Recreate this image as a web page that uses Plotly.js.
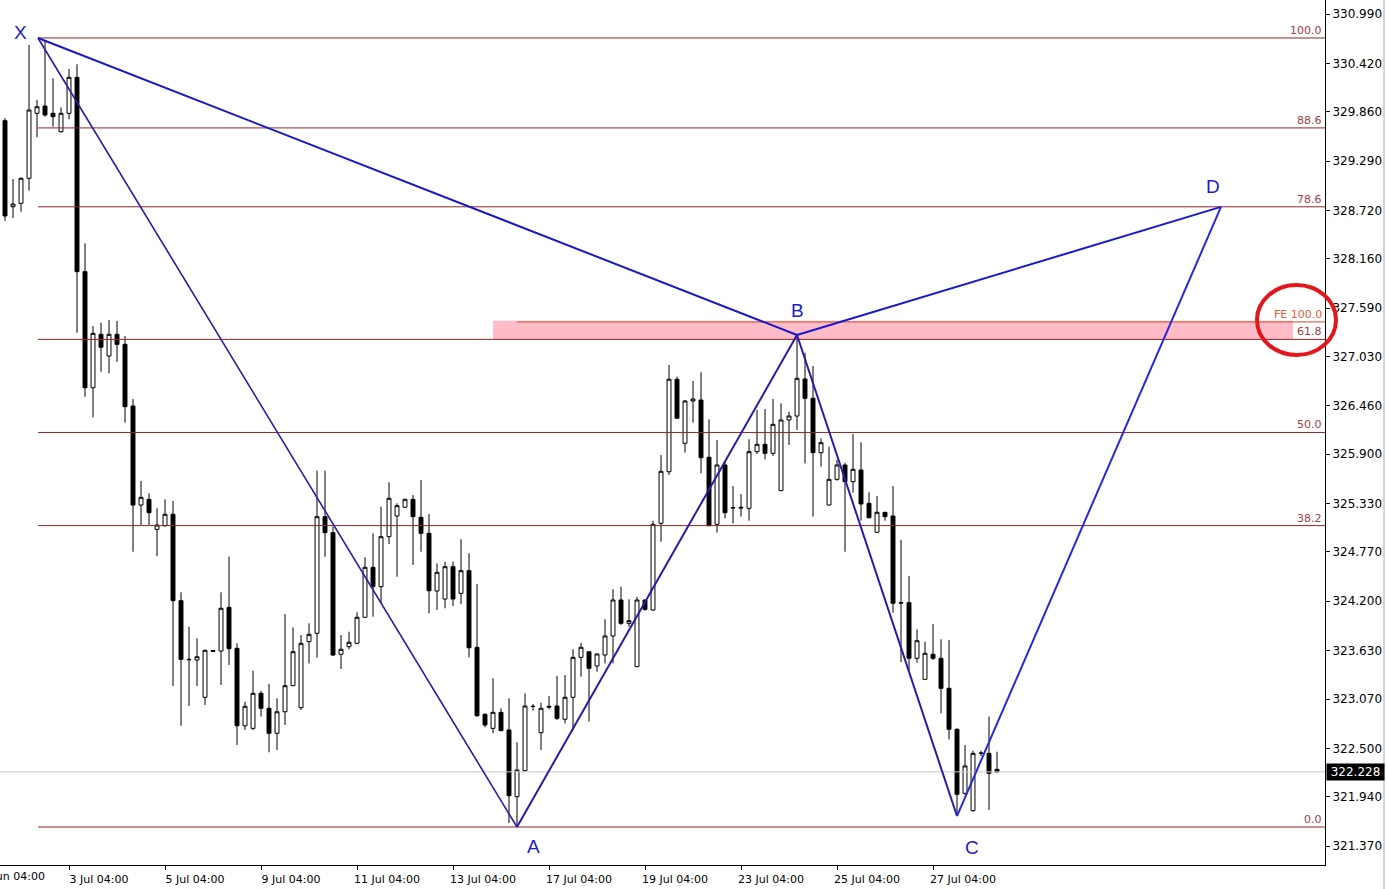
<!DOCTYPE html>
<html>
<head>
<meta charset="utf-8">
<script src="https://cdn.plot.ly/plotly-3.0.1.min.js"></script>
<style>
  html, body { margin:0; padding:0; background:#ffffff; }
  #chart { width:1387px; height:889px; }
</style>
</head>
<body>
<div id="chart"></div>
<script>
// ---- Candles (H4 bars, index order) ----
const barOpen = [
329.757, 328.762, 328.801, 329.091, 329.842, 329.926, 329.842, 329.629, 329.842, 330.258,
328.011, 326.669, 327.287, 327.036, 327.287, 327.171, 326.458, 325.313, 325.379, 325.032,
325.074, 325.206, 324.207, 323.529, 323.521, 323.090, 323.630, 323.625, 324.130, 323.656,
322.761, 322.731, 323.136, 322.963, 322.674, 322.923, 323.224, 322.970, 323.733, 323.830,
325.178, 324.993, 323.587, 323.675, 323.714, 324.015, 324.593, 324.369, 324.947, 325.186,
325.287, 325.379, 325.171, 324.986, 324.319, 324.226, 324.600, 324.292, 324.554, 323.668,
322.893, 322.731, 322.916, 322.712, 321.941, 322.241, 322.983, 322.681, 322.986, 322.989,
322.836, 323.090, 323.552, 323.617, 323.452, 323.579, 323.799, 324.215, 323.945, 323.444,
324.215, 324.099, 325.102, 325.698, 326.767, 326.027, 326.516, 326.527, 325.865, 325.090,
325.776, 325.279, 325.287, 325.275, 325.930, 326.015, 325.911, 325.479, 326.296, 326.342,
326.770, 326.547, 325.918, 325.313, 325.610, 325.776, 325.583, 325.718, 325.333, 324.998,
325.229, 325.186, 324.184, 324.184, 323.541, 323.298, 323.587, 323.541, 323.194, 322.720,
321.980, 321.779, 322.442, 322.442, 322.257
];
const barHigh = [
329.787, 329.082, 329.100, 330.632, 329.996, 330.690, 330.247, 329.911, 330.354, 330.409,
328.339, 327.383, 327.421, 327.452, 327.441, 327.267, 326.539, 325.591, 325.449, 325.275,
325.379, 325.359, 324.304, 323.906, 323.772, 323.640, 323.635, 324.304, 324.715, 323.714,
323.039, 323.397, 323.166, 323.244, 323.078, 324.053, 323.899, 323.810, 323.945, 325.710,
325.710, 325.062, 323.810, 323.848, 324.073, 324.709, 324.986, 325.294, 325.576, 325.333,
325.385, 325.429, 325.602, 325.209, 324.639, 324.658, 324.658, 324.917, 324.755, 324.400,
322.905, 323.310, 322.963, 323.078, 322.570, 323.136, 323.012, 323.027, 323.105, 323.336,
323.348, 323.645, 323.721, 323.620, 323.595, 323.992, 324.339, 324.369, 324.223, 324.253,
324.220, 325.132, 325.891, 326.932, 326.797, 326.527, 326.747, 326.848, 326.304, 326.065,
325.814, 325.533, 325.440, 326.073, 326.412, 326.423, 326.539, 326.489, 326.392, 327.280,
327.074, 326.920, 326.084, 325.987, 325.834, 325.802, 326.134, 326.038, 325.460, 325.417,
325.230, 325.533, 324.909, 324.492, 323.876, 323.733, 323.937, 323.760, 323.752, 322.731,
322.538, 322.472, 322.472, 322.866, 322.461
];
const barLow = [
328.600, 328.630, 328.704, 328.947, 329.565, 329.803, 329.687, 329.620, 329.773, 327.305,
326.565, 326.327, 326.854, 326.836, 326.969, 326.265, 324.773, 325.082, 325.082, 324.724,
325.062, 323.221, 322.761, 322.989, 323.221, 323.001, 323.615, 323.232, 323.463, 322.538,
322.712, 322.710, 322.866, 322.454, 322.481, 322.770, 323.220, 322.943, 323.483, 323.548,
324.715, 323.567, 323.417, 323.645, 323.703, 324.010, 324.022, 324.177, 324.862, 324.484,
325.280, 324.620, 324.773, 324.061, 324.099, 324.119, 324.145, 324.169, 323.552, 322.866,
322.743, 322.674, 322.700, 321.637, 321.594, 322.230, 322.935, 322.481, 322.951, 322.827,
322.789, 322.712, 323.328, 322.808, 323.386, 323.483, 323.483, 323.926, 323.906, 323.440,
324.091, 324.091, 324.889, 325.660, 326.310, 325.918, 326.265, 325.680, 325.070, 324.993,
325.159, 325.102, 325.178, 325.132, 325.903, 325.842, 325.880, 325.475, 326.007, 326.180,
325.795, 325.178, 325.756, 325.310, 325.594, 324.773, 325.455, 325.132, 325.160, 324.995,
325.132, 324.068, 323.498, 323.397, 323.490, 323.295, 323.521, 322.905, 322.604, 321.720,
321.960, 321.767, 322.411, 321.787, 322.220
];
const barClose = [
328.655, 328.793, 329.091, 329.880, 329.918, 329.822, 329.803, 329.842, 330.258, 328.011,
326.669, 327.298, 327.137, 327.287, 327.171, 326.450, 325.313, 325.402, 325.224, 325.082,
325.206, 324.207, 323.529, 323.525, 323.559, 323.633, 323.620, 324.119, 323.652, 322.761,
322.986, 323.136, 322.963, 322.674, 322.923, 323.224, 323.617, 323.714, 323.818, 325.178,
324.993, 323.579, 323.645, 323.726, 324.015, 324.593, 324.369, 324.947, 325.391, 325.305,
325.379, 325.178, 324.986, 324.322, 324.535, 324.600, 324.226, 324.554, 323.663, 322.877,
322.770, 322.916, 322.704, 321.952, 322.249, 322.989, 322.985, 322.963, 322.978, 322.847,
323.090, 323.552, 323.668, 323.425, 323.591, 323.799, 324.215, 323.945, 323.976, 324.215,
324.107, 325.090, 325.703, 326.767, 326.316, 326.516, 326.539, 325.860, 325.074, 325.776,
325.224, 325.282, 325.279, 325.930, 326.015, 325.911, 326.246, 326.296, 326.342, 326.778,
326.547, 325.918, 326.034, 325.610, 325.776, 325.583, 325.726, 325.325, 325.166, 325.229,
325.178, 324.177, 324.180, 323.541, 323.744, 323.599, 323.541, 323.194, 322.720, 321.968,
322.296, 322.442, 322.445, 322.211, 322.228
];
const barIndex = barOpen.map((_, i) => i);

// ---- Time axis labels (bar index -> label) ----
const timeTickIndex = [8, 20, 32, 44, 56, 68, 80, 92, 104, 116];
const timeTickLabels = ['3 Jul 04:00', '5 Jul 04:00', '9 Jul 04:00', '11 Jul 04:00', '13 Jul 04:00',
                        '17 Jul 04:00', '19 Jul 04:00', '23 Jul 04:00', '25 Jul 04:00', '27 Jul 04:00'];
const firstTimeLabel = '29 Jun 04:00';

// ---- Price axis labels ----
const priceTicks = [330.990, 330.420, 329.860, 329.290, 328.720, 328.160, 327.590, 327.030, 326.460,
                    325.900, 325.330, 324.770, 324.200, 323.630, 323.070, 322.500, 321.940, 321.370];
const priceTickLabels = ['330.990','330.420','329.860','329.290','328.720','328.160','327.590','327.030','326.460',
                         '325.900','325.330','324.770','324.200','323.630','323.070','322.500','321.940','321.370'];

// ---- Harmonic pattern points ----
const patternNames = ['X', 'A', 'B', 'C', 'D'];
const patternIndex = [4.125, 64, 99, 119, 152];
const patternPrice = [330.713, 321.590, 327.279, 321.717, 328.760];

// ---- Fibonacci retracement levels (X -> A) ----
const fibLabels = ['0.0', '38.2', '50.0', '61.8', '78.6', '88.6', '100.0'];
const fibPrices = [321.590, 325.075, 326.152, 327.228, 328.761, 329.673, 330.713];

// ---- Fibonacci expansion level and zone ----
const feLabel = 'FE 100.0';
const fePrice = 327.430;
const zoneFromIndex = 61;
const zoneToIndex = 161;
const zoneLow = 327.228;
const zoneHigh = 327.444;

// ---- Current price ----
const lastPrice = 322.228;
const lastPriceLabel = '322.228';

const X_END = 165;
const FONT = 'DejaVu Sans, sans-serif';

const traces = [];

// candles
traces.push({
  type: 'candlestick',
  x: barIndex, open: barOpen, high: barHigh, low: barLow, close: barClose,
  increasing: { line: { color: '#000000', width: 1 }, fillcolor: '#ffffff' },
  decreasing: { line: { color: '#000000', width: 1 }, fillcolor: '#000000' },
  whiskerwidth: 0,
  hoverinfo: 'skip',
  showlegend: false
});

// current price line
traces.push({
  type: 'scatter', mode: 'lines',
  x: [-1, X_END], y: [lastPrice, lastPrice],
  line: { color: '#c8c8c8', width: 1 }, hoverinfo: 'skip', showlegend: false
});

// fib lines
fibPrices.forEach(p => {
  traces.push({
    type: 'scatter', mode: 'lines',
    x: [patternIndex[0], X_END], y: [p, p],
    line: { color: '#8e2525', width: 1 }, hoverinfo: 'skip', showlegend: false
  });
});

// FE line
traces.push({
  type: 'scatter', mode: 'lines',
  x: [patternIndex[1], X_END], y: [fePrice, fePrice],
  line: { color: '#d24a2a', width: 1 }, hoverinfo: 'skip', showlegend: false
});

// pattern legs
function leg(a, b, color, width) {
  traces.push({
    type: 'scatter', mode: 'lines',
    x: [patternIndex[a], patternIndex[b]], y: [patternPrice[a], patternPrice[b]],
    line: { color: color, width: width }, hoverinfo: 'skip', showlegend: false
  });
}
leg(0, 1, '#2c1aa6', 1.6); // X-A
leg(1, 2, '#2c1aa6', 2);   // A-B
leg(2, 3, '#2c1aa6', 2);   // B-C
leg(0, 2, '#1818c8', 2);   // X-B
leg(2, 4, '#1818d0', 2);   // B-D
leg(3, 4, '#2828e0', 2);   // C-D

const annotations = [];

// fib labels
fibPrices.forEach((p, i) => {
  annotations.push({
    xref: 'paper', yref: 'y', x: 1, y: p, xanchor: 'right', yanchor: 'bottom',
    xshift: -1, yshift: -1, showarrow: false, text: fibLabels[i],
    font: { family: FONT, size: 11, color: '#a33d47' }
  });
});
annotations.push({
  xref: 'paper', yref: 'y', x: 1, y: fePrice, xanchor: 'right', yanchor: 'bottom',
  xshift: -1, yshift: -1, showarrow: false, text: feLabel,
  font: { family: FONT, size: 11, color: '#e0603c' }
});

// pattern point labels
const labelShift = { X: [-18, 5], A: [16, -19], B: [0, 24], C: [15, -31], D: [-8, 20] };
patternNames.forEach((n, i) => {
  annotations.push({
    xref: 'x', yref: 'y', x: patternIndex[i], y: patternPrice[i],
    xanchor: 'center', yanchor: 'middle', showarrow: false, text: n,
    xshift: labelShift[n][0], yshift: labelShift[n][1],
    font: { family: 'Liberation Sans, Arial, sans-serif', size: 19, color: '#1c1cc8' }
  });
});

// current price box
annotations.push({
  xref: 'paper', yref: 'y', x: 1, y: lastPrice, xanchor: 'left', yanchor: 'middle',
  xshift: 1, showarrow: false, text: lastPriceLabel, bgcolor: '#000000',
  borderpad: 1, width: 55, height: 14,
  font: { family: FONT, size: 12, color: '#ffffff' }
});

// first (cut) time label
annotations.push({
  xref: 'paper', yref: 'paper', x: -27 / 1325, y: 0, xanchor: 'left', yanchor: 'top',
  yshift: -3, showarrow: false, text: firstTimeLabel,
  font: { family: FONT, size: 11, color: '#000000' }
});

const shapes = [
  // PRZ zone
  { type: 'rect', xref: 'x', yref: 'y', x0: zoneFromIndex, x1: zoneToIndex, y0: zoneLow, y1: zoneHigh,
    fillcolor: '#ffbcc6', line: { width: 0 }, layer: 'below' },
  // red highlight circle
  { type: 'circle', xref: 'paper', yref: 'paper', x0: 1257 / 1325, x1: 1336 / 1325,
    y0: 1 - 355 / 865, y1: 1 - 285 / 865, line: { color: '#e3161c', width: 4 }, layer: 'above' },
  // window right border
  { type: 'line', xref: 'paper', yref: 'paper', x0: 1384 / 1325, x1: 1384 / 1325,
    y0: -24 / 865, y1: 1, line: { color: '#a8a8a8', width: 1 } }
];

const layout = {
  width: 1387, height: 889,
  margin: { l: 0, r: 62, t: 0, b: 24, pad: 0 },
  paper_bgcolor: '#ffffff', plot_bgcolor: '#ffffff',
  showlegend: false,
  hovermode: false,
  xaxis: {
    type: 'linear', range: [-0.625, X_END], fixedrange: true,
    showgrid: false, zeroline: false,
    showline: true, linecolor: '#000000', linewidth: 1,
    ticks: 'outside', ticklen: 4, tickcolor: '#000000', tickwidth: 1,
    tickmode: 'array', tickvals: timeTickIndex, ticktext: timeTickLabels,
    ticklabelshift: 30,
    tickfont: { family: FONT, size: 11, color: '#000000' },
    rangeslider: { visible: false }
  },
  yaxis: {
    side: 'right', range: [321.151, 331.152], fixedrange: true,
    showgrid: false, zeroline: false,
    showline: true, linecolor: '#000000', linewidth: 1,
    ticks: 'outside', ticklen: 4, tickcolor: '#000000', tickwidth: 1,
    tickmode: 'array', tickvals: priceTicks, ticktext: priceTickLabels,
    tickfont: { family: FONT, size: 12, color: '#000000' }
  },
  annotations: annotations,
  shapes: shapes
};

Plotly.newPlot('chart', traces, layout, { displayModeBar: false, staticPlot: true });
</script>
</body>
</html>
